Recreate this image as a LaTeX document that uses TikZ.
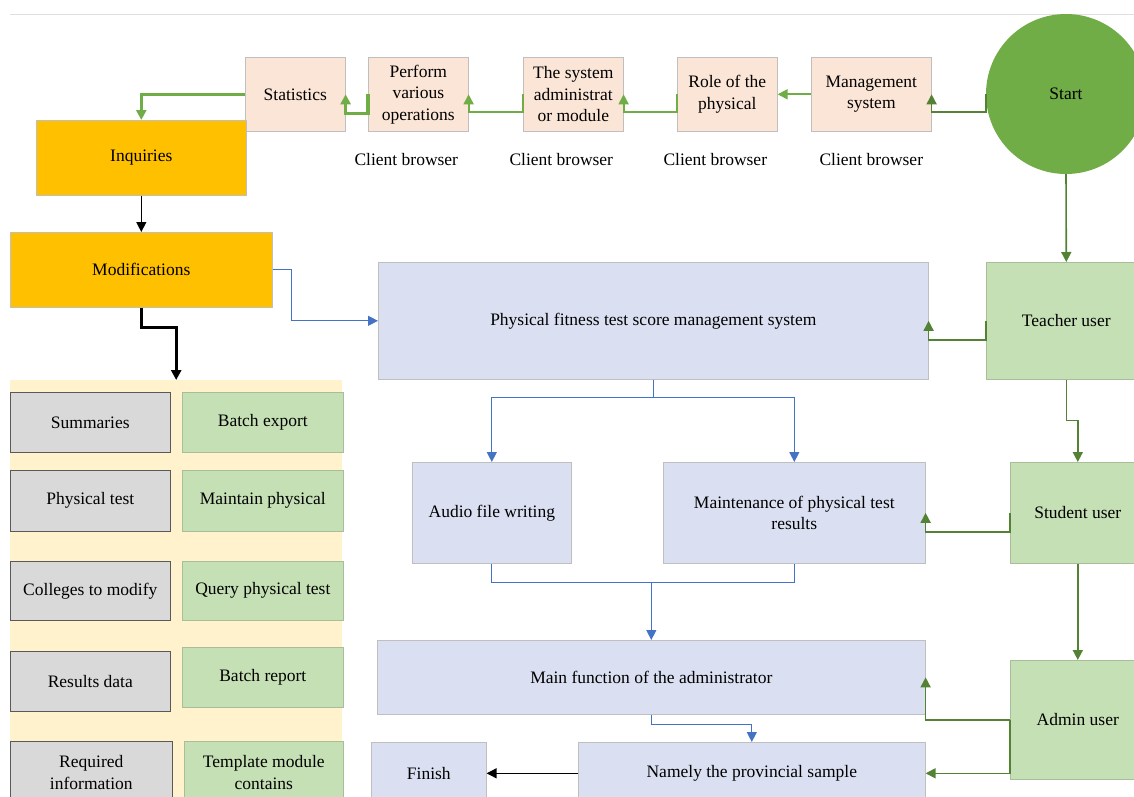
\documentclass[tikz,border=0pt]{standalone}
\usepackage{fontspec}
\setmainfont{Liberation Serif}
\usetikzlibrary{arrows.meta,positioning}
\definecolor{peach}{HTML}{FBE5D6}
\definecolor{gold}{HTML}{FFC000}
\definecolor{lav}{HTML}{DAE0F2}
\definecolor{leaf}{HTML}{C5E0B4}
\definecolor{cream}{HTML}{FFF2CC}
\definecolor{ash}{HTML}{D9D9D9}
\definecolor{sgreen}{HTML}{70AD47}
\definecolor{dgreen}{HTML}{548235}
\definecolor{blu}{HTML}{4472C4}

\begin{document}
\begin{tikzpicture}[x=1pt,y=-1pt,
font=\fontsize{17.5}{21.5}\selectfont,
>={Triangle[length=10pt,width=10pt]},
b/.style={
draw=gray!50,
line width=0.6pt,
anchor=north west,
inner sep=2pt,
align=center},
fp/.style={fill=peach},
fo/.style={fill=gold},
fl/.style={fill=lav},
fe/.style={fill=leaf,draw=leaf!85!black},
fa/.style={fill=ash,draw=gray!70!black},
cb/.style={below=18pt of #1},
gl/.style={draw=sgreen,line width=1.8pt},
gt/.style={draw=sgreen,line width=3.2pt},
gd/.style={draw=dgreen,line width=1.6pt},
bl/.style={draw=blu,line width=1.3pt},
k/.style={draw=black,line width=1.3pt},
kt/.style={draw=black,line width=3.2pt},
]
\useasboundingbox(0,0)rectangle(1134,796);
\clip(0,0)rectangle(1134,796);
\draw[gray!25,line width=1pt](10,14)--(1134,14);
%Client browser row
\node[circle,fill=sgreen,minimum size=160,inner sep=0](start)at(1066,94){Start};
\node[b,fp,minimum width=120,minimum height=74](mgmt)at(811,57){Management\\system};
\node[b,fp,minimum width=100,minimum height=74](role)at(677,57){Role of the\\physical};
\node[b,fp,minimum width=100,minimum height=74](sysad)at(523,57){The system\\administrat\\or module};
\node[b,fp,minimum width=100,minimum height=74](perf)at(368,57){Perform\\various\\operations};
\node[b,fp,minimum width=100,minimum height=74](stats)at(245,57){Statistics};
\node[cb=mgmt](cb4){Client browser};
\node[cb=role,xshift=-12pt](cb3){Client browser};
\node[cb=sysad,xshift=-12pt](cb2){Client browser};
\node[cb=perf,xshift=-12pt](cb1){Client browser};
%%Inquiries and modifications
\node[b,fo,minimum width=210,minimum height=75](inq)at(36,120){Inquiries};
\node[b,fo,minimum width=262,minimum height=75](mod)at(10,232){Modifications};
%%Function panel
\node[anchor=north west,fill=cream,minimum width=332,minimum height=420,inner sep=0](panel)at(10,380){};
\node[b,fa,minimum width=160,minimum height=60](sum)at(10,392){Summaries};
\node[b,fa,minimum width=160,minimum height=61](ptest)at(10,470){Physical test};
\node[b,fa,minimum width=160,minimum height=59](col)at(10,561){Colleges to modify};
\node[b,fa,minimum width=160,minimum height=60](res)at(10,651){Results data};
\node[b,fa,minimum width=162,minimum height=62](req)at(10,741){Required\\information};
\node[b,fe,minimum width=161,minimum height=60](bexp)at(182,392){Batch export};
\node[b,fe,minimum width=161,minimum height=61](mphys)at(182,470){Maintain physical};
\node[b,fe,minimum width=161,minimum height=59](qphys)at(182,561){Query physical test};
\node[b,fe,minimum width=161,minimum height=60](brep)at(182,647){Batch report};
\node[b,fe,minimum width=159,minimum height=62](tmpl)at(184,741){Template module\\contains};
%%Management system
\node[b,fl,minimum width=550,minimum height=117](phys)at(378,262){Physical fitness test score management system};
\node[b,fl,minimum width=159,minimum height=101](audio)at(412,462){Audio file writing};
\node[b,fl,minimum width=262,minimum height=101](maint)at(663,462){Maintenance of physical test\\results};
\node[b,fl,minimum width=548,minimum height=74](mainf)at(377,640){Main function of the administrator};
\node[b,fl,minimum width=347,minimum height=62](namely)at(578,742){Namely the provincial sample};
\node[b,fl,minimum width=115,minimum height=62](finish)at(371,742){Finish};
%%Users
\node[b,fe,minimum width=160,minimum height=117](teach)at(986,262){Teacher user};
\node[b,fe,minimum width=135,minimum height=101](stud)at(1010,462){Student user};
\node[b,fe,minimum width=135,minimum height=119](admin)at(1010,660){Admin user};
%Connectors
\draw[gd,->](start.west)--++(0,18)-|(mgmt.east);
\draw[gl,->](mgmt.west)--(role.east);
\draw[gl,->](role.west)--++(0,18)-|(sysad.east);
\draw[gl,->](sysad.west)--++(0,18)-|(perf.east);
\draw[gt,->](perf.west)--++(0,19)-|(stats.east);
\draw[gt,->](stats.west)-|(inq.north);
\draw[k,->](inq.south)--(mod.north);
\draw[kt,->](mod.south)--++(0,20)-|(panel.north);
\draw[bl,->](mod.east)--++(19,0)|-(phys.west);
\draw[gd,->](start.south)--(teach.north);
\draw[gd,->](teach.west)--++(0,19)-|(phys.east);
\draw[gd,->](teach.south)--++(0,41)-|(stud.north);
\draw[bl](phys.south)--++(0,18)coordinate(fork);
\draw[bl,->](fork)-|(audio.north);
\draw[bl,->](fork)-|(maint.north);
\draw[gd,->](stud.west)--++(0,19)-|(maint.east);
\draw[bl](audio.south)--++(0,19)-|(maint.south);
\draw[bl,->](mainf.north|-audio.south)++(0,19)--(mainf.north);
\draw[gd,->](stud.south)--(admin.north);
\draw[gd,->](admin.west)-|(mainf.east);
\draw[gd,->](admin.west)|-(namely.east);
\draw[bl,->](mainf.south)--++(0,10)-|(namely.north);
\draw[k,->](namely.west)--(finish.east);
\end{tikzpicture}
\end{document}
